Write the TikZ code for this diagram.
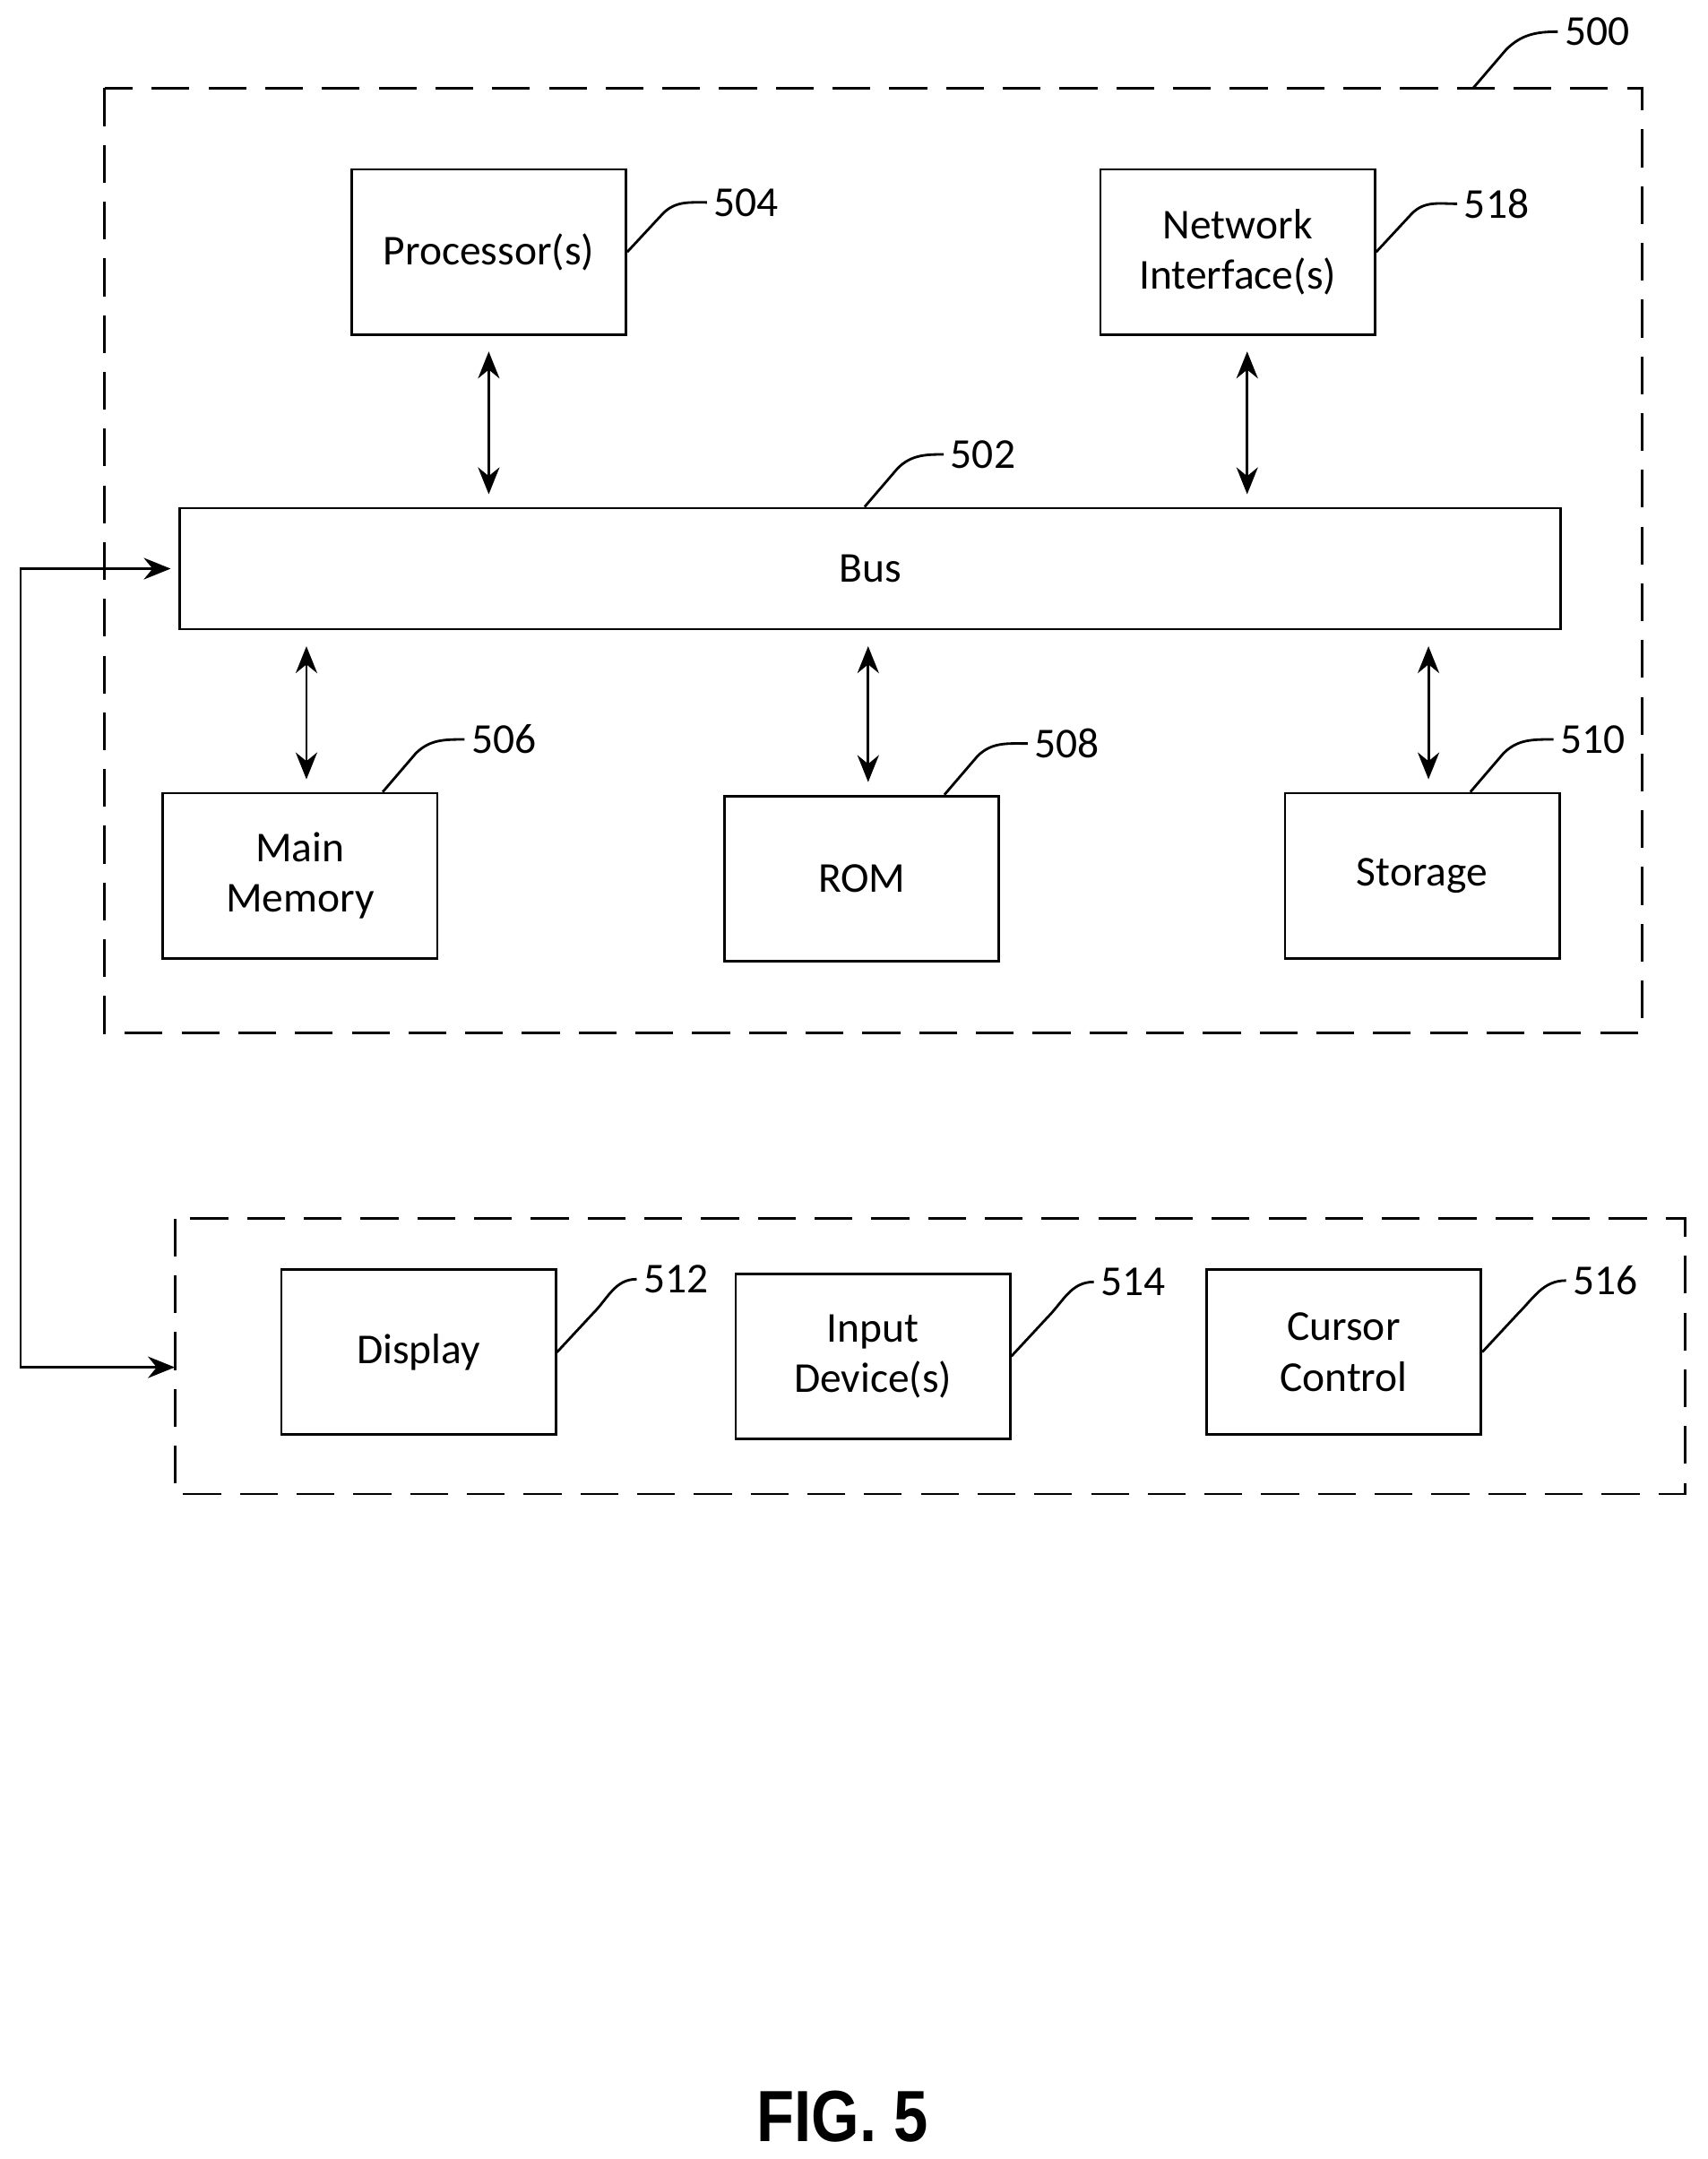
\documentclass[tikz,border=0pt]{standalone}
\usepackage{fontspec}
\setmainfont{Carlito}
\newfontfamily\figfont{Liberation Sans}
\usetikzlibrary{positioning,arrows.meta}

\begin{document}
\begin{tikzpicture}[x=0.015355cm,y=-0.015355cm,font=\fontsize{13.5}{16}\selectfont,
  box/.style={draw,thick,minimum width=3.06cm,minimum height=1.84cm,align=center,inner sep=0},
  ref/.style={inner sep=2pt},
  lead/.style={thick},
  link/.style={thick,{Stealth[length=3mm,width=2.4mm]}-{Stealth[length=3mm,width=2.4mm]}},
  gap/.style={shorten <=5pt,shorten >=4pt},
  grp/.style={thick,dash pattern=on 12pt off 6pt}]

\useasboundingbox (0,0) rectangle (1240,1568);

% outer groups
\draw [grp] (76,64) rectangle (1193,750);
\draw [grp] (127,885) rectangle (1224,1085);

% boxes
\node [box] (proc) at (355,183) {Processor(s)};
\node [box] (net) at (899,183) {Network\\Interface(s)};
\node [draw,thick,minimum width=15.39cm,minimum height=1.35cm,inner sep=0] (bus) at (632,413) {Bus};
\node [box] (mem) at (218,636) {Main\\Memory};
\node [box] (rom) at (626,638) {ROM};
\node [box] (sto) at (1033,636) {Storage};
\node [box] (disp) at (304,982) {Display};
\node [box] (inp) at (634,985) {Input\\Device(s)};
\node [box] (cur) at (976,982) {Cursor\\Control};

% reference numerals
\node [ref] (l500) at (1160,23) {500};
\node [ref] (l504) at (542,147) {504};
\node [ref] (l518) at (1087,148) {518};
\node [ref] (l502) at (714,330) {502};
\node [ref] (l506) at (366,537) {506};
\node [ref] (l508) at (775,540) {508};
\node [ref] (l510) at (1157,537) {510};
\node [ref] (l512) at (491,929) {512};
\node [ref] (l514) at (823,931) {514};
\node [ref] (l516) at (1166,930) {516};

\coordinate (c500) at (1070,64);
\draw [lead] (c500) -- ++(24,-28) to[out=45,in=180] (l500.west);
\draw [lead] (proc.east) -- ++(26,-28) to[out=45,in=180] (l504.west);
\draw [lead] (net.east) -- ++(26,-28) to[out=45,in=180] (l518.west);
\draw [lead] (bus.north) ++(-4,0) -- ++(24,-28) to[out=45,in=180] (l502.west);
\draw [lead] (mem.north) ++(60,0) -- ++(24,-28) to[out=45,in=180] (l506.west);
\draw [lead] (rom.north) ++(60,0) -- ++(24,-28) to[out=45,in=180] (l508.west);
\draw [lead] (sto.north) ++(35,0) -- ++(24,-28) to[out=45,in=180] (l510.west);
\draw [lead] (disp.east) -- ++(26,-28) to[out=45,in=180] (l512.west);
\draw [lead] (inp.east) -- ++(26,-28) to[out=45,in=180] (l514.west);
\draw [lead] (cur.east) -- ++(26,-28) to[out=45,in=180] (l516.west);

% bus links
\draw [link,gap] (proc.south) -- (proc.south |- bus.north);
\draw [link,gap] ([xshift=3pt]net.south) -- ([xshift=3pt]net.south |- bus.north);
\draw [link,gap] ([xshift=2pt]mem.north |- bus.south) -- ([xshift=2pt]mem.north);
\draw [link,gap] ([xshift=2pt]rom.north |- bus.south) -- ([xshift=2pt]rom.north);
\draw [link,gap] ([xshift=2pt]sto.north |- bus.south) -- ([xshift=2pt]sto.north);

% io link
\coordinate (busin) at (124,413);
\coordinate (grpin) at (127,993);
\draw [link] (busin) -- (15,413) -- (15,993) -- (grpin);

\node [font=\figfont\bfseries\fontsize{23}{26}\selectfont] (fig) at (612,1537) {\scalebox{0.85}[1]{FIG. 5}};

\end{tikzpicture}
\end{document}
